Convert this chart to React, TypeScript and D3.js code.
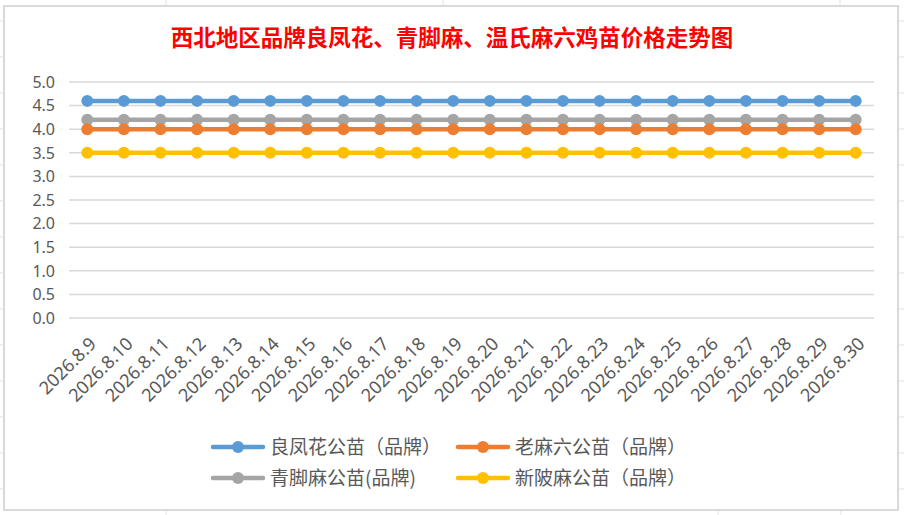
import React, { useEffect, useRef } from "react";
import * as d3 from "d3";

const title = "西北地区品牌良凤花、青脚麻、温氏麻六鸡苗价格走势图";

const dates = [
  "2026.8.9", "2026.8.10", "2026.8.11", "2026.8.12", "2026.8.13", "2026.8.14",
  "2026.8.15", "2026.8.16", "2026.8.17", "2026.8.18", "2026.8.19", "2026.8.20",
  "2026.8.21", "2026.8.22", "2026.8.23", "2026.8.24", "2026.8.25", "2026.8.26",
  "2026.8.27", "2026.8.28", "2026.8.29", "2026.8.30",
];

const liangFengHua = [4.6, 4.6, 4.6, 4.6, 4.6, 4.6, 4.6, 4.6, 4.6, 4.6, 4.6, 4.6, 4.6, 4.6, 4.6, 4.6, 4.6, 4.6, 4.6, 4.6, 4.6, 4.6];
const laoMaLiu = [4.0, 4.0, 4.0, 4.0, 4.0, 4.0, 4.0, 4.0, 4.0, 4.0, 4.0, 4.0, 4.0, 4.0, 4.0, 4.0, 4.0, 4.0, 4.0, 4.0, 4.0, 4.0];
const qingJiaoMa = [4.2, 4.2, 4.2, 4.2, 4.2, 4.2, 4.2, 4.2, 4.2, 4.2, 4.2, 4.2, 4.2, 4.2, 4.2, 4.2, 4.2, 4.2, 4.2, 4.2, 4.2, 4.2];
const xinBeiMa = [3.5, 3.5, 3.5, 3.5, 3.5, 3.5, 3.5, 3.5, 3.5, 3.5, 3.5, 3.5, 3.5, 3.5, 3.5, 3.5, 3.5, 3.5, 3.5, 3.5, 3.5, 3.5];

const yTicks = [0, 0.5, 1, 1.5, 2, 2.5, 3, 3.5, 4, 4.5, 5];

interface Series {
  name: string;
  color: string;
  values: number[];
}

// legend order (row by row)
const series: Series[] = [
  { name: "良凤花公苗（品牌）", color: "#5b9bd5", values: liangFengHua },
  { name: "老麻六公苗（品牌）", color: "#ed7d31", values: laoMaLiu },
  { name: "青脚麻公苗(品牌)", color: "#a5a5a5", values: qingJiaoMa },
  { name: "新陂麻公苗（品牌）", color: "#ffc000", values: xinBeiMa },
];
// orange sits on top of gray in the picture
const drawOrder = [0, 2, 1, 3];

const App: React.FC = () => {
  const svgRef = useRef<SVGSVGElement>(null);

  useEffect(() => {
    if (!svgRef.current) return;
    const width = 904;
    const height = 515;
    const svg = d3.select(svgRef.current);
    svg.attr("width", width).attr("height", height);

    // faint spreadsheet cells behind the chart
    const cells = svg.append("g").attr("stroke", "#e3e3e3").attr("stroke-width", 1);
    d3.range(21, height, 36).forEach((y) => {
      cells.append("line").attr("x1", 0).attr("x2", 4).attr("y1", y).attr("y2", y);
      cells.append("line").attr("x1", 898).attr("x2", width).attr("y1", y).attr("y2", y);
    });
    [166, 443, 840].forEach((x) => {
      cells.append("line").attr("x1", x).attr("x2", x).attr("y1", 0).attr("y2", 6);
    });
    [166, 718, 841].forEach((x) => {
      cells.append("line").attr("x1", x).attr("x2", x).attr("y1", 510).attr("y2", height);
    });

    svg
      .append("rect")
      .attr("x", 4)
      .attr("y", 6)
      .attr("width", 894)
      .attr("height", 504)
      .attr("fill", "#fff")
      .attr("stroke", "#d9d9d9")
      .attr("stroke-width", 2);

    svg
      .append("text")
      .attr("x", 452)
      .attr("y", 46)
      .attr("text-anchor", "middle")
      .attr("fill", "#ff0000")
      .style("font-family", "'Noto Sans CJK SC', sans-serif")
      .style("font-weight", "bold")
      .style("font-size", "22.5px")
      .text(title);

    const x = d3.scalePoint<string>().domain(dates).range([69, 874]).padding(0.5);
    const y = d3.scaleLinear().domain([0, 5]).range([318, 82]);

    const axisFont = "'Noto Sans', sans-serif";

    // gridlines
    svg
      .append("g")
      .selectAll("line")
      .data(yTicks)
      .enter()
      .append("line")
      .attr("x1", 69)
      .attr("x2", 874)
      .attr("y1", (d) => y(d))
      .attr("y2", (d) => y(d))
      .attr("stroke", "#d9d9d9")
      .attr("stroke-width", 1.5);

    svg
      .append("g")
      .selectAll("text")
      .data(yTicks)
      .enter()
      .append("text")
      .attr("x", 55)
      .attr("y", (d) => y(d))
      .attr("dy", "0.36em")
      .attr("text-anchor", "end")
      .attr("fill", "#595959")
      .style("font-family", axisFont)
      .style("font-size", "16px")
      .text((d) => d3.format(".1f")(d));

    svg
      .append("g")
      .selectAll("text")
      .data(dates)
      .enter()
      .append("text")
      .attr("transform", (d) => `translate(${x(d)! + 1},${336}) rotate(-45)`)
      .attr("dy", "0.71em")
      .attr("text-anchor", "end")
      .attr("fill", "#595959")
      .style("font-family", axisFont)
      .style("font-size", "18px")
      .text((d) => d);

    const line = d3
      .line<number>()
      .x((_, i) => x(dates[i])!)
      .y((d) => y(d));

    drawOrder.forEach((si) => {
      const s = series[si];
      const g = svg.append("g");
      g.append("path")
        .datum(s.values)
        .attr("fill", "none")
        .attr("stroke", s.color)
        .attr("stroke-width", 4.5)
        .attr("stroke-linecap", "round")
        .attr("d", line);
      g.selectAll("circle")
        .data(s.values)
        .enter()
        .append("circle")
        .attr("cx", (_, i) => x(dates[i])!)
        .attr("cy", (d) => y(d))
        .attr("r", 6)
        .attr("fill", s.color);
    });

    // legend, two columns
    const legendX = [213, 458];
    const legendY = [447, 478];
    series.forEach((s, i) => {
      const lx = legendX[i % 2];
      const ly = legendY[Math.floor(i / 2)];
      const g = svg.append("g").attr("transform", `translate(${lx},${ly})`);
      g.append("line")
        .attr("x1", 0)
        .attr("x2", 50)
        .attr("stroke", s.color)
        .attr("stroke-width", 4.5)
        .attr("stroke-linecap", "round");
      g.append("circle").attr("cx", 25).attr("r", 6).attr("fill", s.color);
      g.append("text")
        .attr("x", 57)
        .attr("dy", "0.36em")
        .attr("fill", "#595959")
        .style("font-family", "'Noto Sans CJK SC', sans-serif")
        .style("font-size", "19px")
        .text(s.name);
    });

    return () => {
      svg.selectAll("*").remove();
    };
  }, []);

  return (
    <div style={{ position: "fixed", left: 0, top: 0 }}>
      <svg ref={svgRef} style={{ display: "block", background: "#fff" }} />
    </div>
  );
};

export default App;
